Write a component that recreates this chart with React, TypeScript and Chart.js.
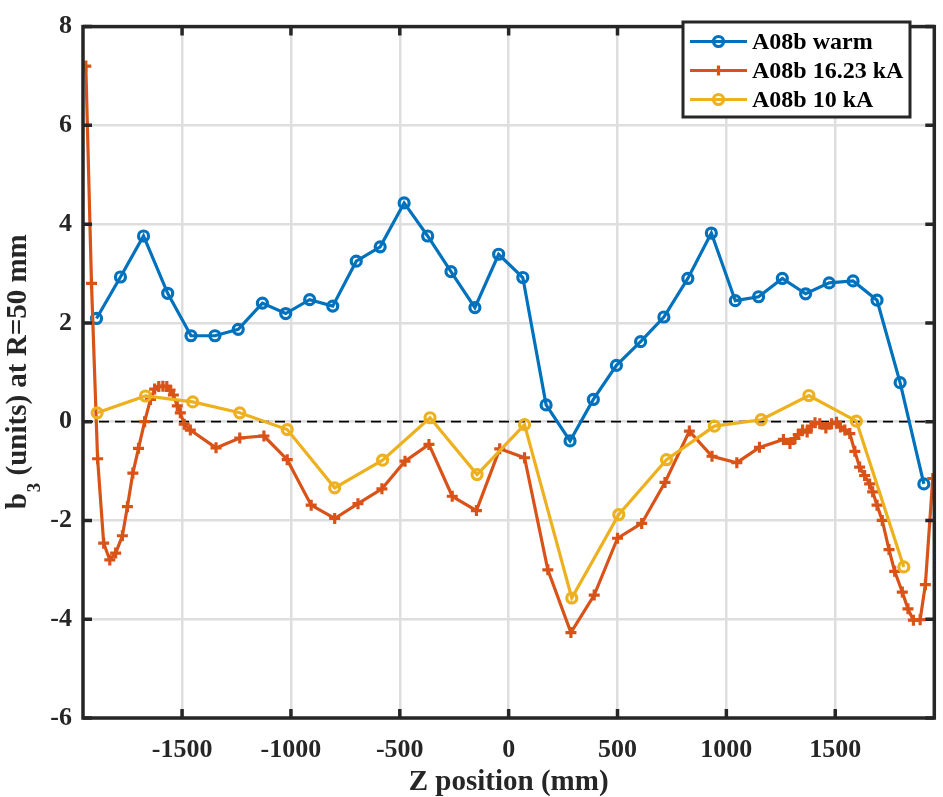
import React, { useEffect, useRef } from "react";
import { Chart, registerables } from "chart.js";

Chart.register(...registerables);

// ---- data ----
const xWarm = [-1893, -1783, -1677, -1566, -1459, -1349, -1242, -1131, -1024, -914, -808, -700, -590, -480, -372, -265, -155, -46, 65, 172, 282, 389, 495, 606, 713, 823, 931, 1041, 1148, 1257, 1364, 1472, 1582, 1692, 1798, 1907];
const bWarm = [2.09, 2.93, 3.76, 2.6, 1.74, 1.74, 1.87, 2.4, 2.19, 2.47, 2.34, 3.25, 3.54, 4.43, 3.76, 3.04, 2.31, 3.39, 2.92, 0.34, -0.39, 0.45, 1.14, 1.62, 2.12, 2.9, 3.82, 2.45, 2.53, 2.9, 2.59, 2.81, 2.85, 2.46, 0.79, -1.26];

const x16 = [-1942, -1916, -1888, -1860, -1832, -1805, -1774, -1751, -1726, -1700, -1672, -1645, -1626, -1607, -1588, -1570, -1555, -1540, -1522, -1508, -1490, -1462, -1344, -1235, -1124, -1017, -907, -799, -692, -582, -476, -366, -259, -148, -41, 73, 180, 286, 393, 500, 611, 718, 830, 934, 1048, 1152, 1262, 1292, 1315, 1330, 1350, 1371, 1390, 1407, 1429, 1457, 1483, 1506, 1524, 1544, 1567, 1590, 1612, 1635, 1658, 1672, 1692, 1716, 1747, 1773, 1808, 1834, 1859, 1890, 1914, 1948];
const b16 = [7.2, 2.8, -0.75, -2.46, -2.8, -2.66, -2.31, -1.72, -1.04, -0.54, 0.0, 0.45, 0.66, 0.71, 0.72, 0.71, 0.64, 0.54, 0.32, 0.18, -0.05, -0.17, -0.53, -0.33, -0.29, -0.77, -1.69, -1.96, -1.66, -1.36, -0.8, -0.46, -1.51, -1.8, -0.55, -0.73, -3.0, -4.27, -3.51, -2.36, -2.06, -1.23, -0.19, -0.7, -0.83, -0.52, -0.36, -0.44, -0.34, -0.26, -0.17, -0.21, -0.09, -0.02, -0.04, -0.13, -0.04, -0.01, -0.11, -0.17, -0.24, -0.6, -0.92, -1.09, -1.26, -1.42, -1.69, -2.0, -2.59, -3.03, -3.45, -3.79, -4.02, -4.01, -3.3, -1.15];

const x10 = [-1890, -1668, -1451, -1235, -1017, -799, -579, -361, -145, 73, 290, 506, 725, 945, 1160, 1379, 1597, 1815];
const b10 = [0.18, 0.52, 0.4, 0.18, -0.16, -1.34, -0.78, 0.08, -1.07, -0.06, -3.57, -1.88, -0.77, -0.09, 0.04, 0.53, 0.01, -2.94];

const seriesLabels = ["A08b warm", "A08b 16.23 kA", "A08b 10 kA"];
const xTickValues = [-1500, -1000, -500, 0, 500, 1000, 1500];
const yTickValues = [-6, -4, -2, 0, 2, 4, 6, 8];
const X_MIN = -1955;
const X_MAX = 1955;
const Y_MIN = -6;
const Y_MAX = 8;
const xTitle = "Z position (mm)";
const yTitleMain = "b";
const yTitleSub = "3";
const yTitleRest = " (units) at R=50 mm";

// ---- styles ----
const W = 943;
const H = 797;
const BLUE = "#0072BD";
const RED = "#D95319";
const YELLOW = "#EDB120";
const AX = "#262626";
const GRID = "#dedede";
const FAMILY = "'Liberation Serif', 'Times New Roman', serif";
const LW = 3.2;
const seriesColors = [BLUE, RED, YELLOW];
const seriesMarkers = ["circle", "cross", "circle"];

function drawMarker(ctx: CanvasRenderingContext2D, kind: string, x: number, y: number, r: number, color: string) {
  ctx.save();
  ctx.strokeStyle = color;
  ctx.lineWidth = LW;
  ctx.setLineDash([]);
  ctx.beginPath();
  if (kind === "circle") {
    ctx.arc(x, y, r, 0, Math.PI * 2);
  } else {
    ctx.moveTo(x - r, y);
    ctx.lineTo(x + r, y);
    ctx.moveTo(x, y - r);
    ctx.lineTo(x, y + r);
  }
  ctx.stroke();
  ctx.restore();
}

const decorPlugin = {
  id: "decor",
  beforeDatasetsDraw(chart: any) {
    const { ctx, chartArea: a, scales } = chart;
    const y0 = scales.y.getPixelForValue(0);
    ctx.save();
    ctx.strokeStyle = "#000";
    ctx.lineWidth = 1.7;
    ctx.setLineDash([10, 6]);
    ctx.beginPath();
    ctx.moveTo(a.left, y0);
    ctx.lineTo(a.right, y0);
    ctx.stroke();
    ctx.restore();
  },
  afterDraw(chart: any) {
    const { ctx, chartArea: a, scales } = chart;
    ctx.save();
    // frame
    ctx.strokeStyle = AX;
    ctx.lineWidth = 3.5;
    ctx.setLineDash([]);
    ctx.strokeRect(a.left, a.top, a.right - a.left, a.bottom - a.top);
    // inward ticks
    const tl = 9;
    ctx.beginPath();
    xTickValues.forEach((v) => {
      const px = scales.x.getPixelForValue(v);
      ctx.moveTo(px, a.bottom);
      ctx.lineTo(px, a.bottom - tl);
      ctx.moveTo(px, a.top);
      ctx.lineTo(px, a.top + tl);
    });
    yTickValues.forEach((v) => {
      const py = scales.y.getPixelForValue(v);
      ctx.moveTo(a.left, py);
      ctx.lineTo(a.left + tl, py);
      ctx.moveTo(a.right, py);
      ctx.lineTo(a.right - tl, py);
    });
    ctx.stroke();

    // x title
    ctx.fillStyle = AX;
    ctx.font = `bold 29px ${FAMILY}`;
    ctx.textAlign = "center";
    ctx.textBaseline = "alphabetic";
    ctx.fillText(xTitle, (a.left + a.right) / 2, 790);

    // y title with subscript
    const mainFont = `bold 29px ${FAMILY}`;
    const subFont = `bold 19px ${FAMILY}`;
    ctx.font = mainFont;
    const w1 = ctx.measureText(yTitleMain).width;
    const w3 = ctx.measureText(yTitleRest).width;
    ctx.font = subFont;
    const w2 = ctx.measureText(yTitleSub).width;
    const total = w1 + w2 + w3;
    ctx.save();
    ctx.translate(26, (a.top + a.bottom) / 2);
    ctx.rotate(-Math.PI / 2);
    ctx.textAlign = "left";
    let sx = -total / 2;
    ctx.font = mainFont;
    ctx.fillText(yTitleMain, sx, 0);
    sx += w1 + 1;
    ctx.font = subFont;
    ctx.fillText(yTitleSub, sx, 14);
    sx += w2;
    ctx.font = mainFont;
    ctx.fillText(yTitleRest, sx, 0);
    ctx.restore();

    // legend
    const lx = 683, ly = 22, lw = 227, lh = 95;
    ctx.fillStyle = "#fff";
    ctx.fillRect(lx, ly, lw, lh);
    ctx.strokeStyle = AX;
    ctx.lineWidth = 3;
    ctx.strokeRect(lx, ly, lw, lh);
    seriesLabels.forEach((label, i) => {
      const ry = ly + 19.5 + i * 29;
      ctx.strokeStyle = seriesColors[i];
      ctx.lineWidth = LW;
      ctx.beginPath();
      ctx.moveTo(690, ry);
      ctx.lineTo(747, ry);
      ctx.stroke();
      drawMarker(ctx, seriesMarkers[i], 718.5, ry, 5, seriesColors[i]);
      ctx.fillStyle = "#000";
      ctx.font = `bold 24px ${FAMILY}`;
      ctx.textAlign = "left";
      ctx.textBaseline = "middle";
      ctx.fillText(label, 752, ry + 1);
    });
    ctx.restore();
  },
};

function makeSeries(xs: number[], ys: number[]) {
  return xs.map((x, i) => ({ x, y: ys[i] }));
}

export default function App() {
  const canvasRef = useRef<HTMLCanvasElement | null>(null);

  useEffect(() => {
    const canvas = canvasRef.current;
    if (!canvas) return;
    const tickFont = { family: FAMILY, size: 26, weight: "bold" as const };
    const chart = new Chart(canvas, {
      type: "line",
      data: {
        datasets: [
          {
            label: seriesLabels[0],
            data: makeSeries(xWarm, bWarm),
            borderColor: BLUE,
            backgroundColor: BLUE,
            borderWidth: LW,
            pointStyle: "circle",
            pointRadius: 5,
            pointBorderWidth: LW,
            pointBorderColor: BLUE,
            pointBackgroundColor: "rgba(0,0,0,0)",
            tension: 0,
            order: 2,
          },
          {
            label: seriesLabels[1],
            data: makeSeries(x16, b16),
            borderColor: RED,
            backgroundColor: RED,
            borderWidth: LW,
            pointStyle: "cross",
            pointRadius: 5.5,
            pointBorderWidth: LW,
            pointBorderColor: RED,
            pointBackgroundColor: RED,
            tension: 0,
            order: 1,
          },
          {
            label: seriesLabels[2],
            data: makeSeries(x10, b10),
            borderColor: YELLOW,
            backgroundColor: YELLOW,
            borderWidth: LW,
            pointStyle: "circle",
            pointRadius: 5,
            pointBorderWidth: LW,
            pointBorderColor: YELLOW,
            pointBackgroundColor: "rgba(0,0,0,0)",
            tension: 0,
            order: 0,
          },
        ],
      },
      options: {
        animation: false,
        responsive: false,
        devicePixelRatio: 1,
        layout: { padding: { left: 0, top: 12, right: 5, bottom: 0 } },
        plugins: {
          legend: { display: false },
          tooltip: { enabled: false },
          title: { display: false },
        },
        scales: {
          x: {
            type: "linear",
            min: X_MIN,
            max: X_MAX,
            afterBuildTicks: (s: any) => {
              s.ticks = xTickValues.map((v) => ({ value: v }));
            },
            afterFit: (s: any) => {
              s.height = 79;
            },
            grid: { color: GRID, lineWidth: 2.5, drawTicks: false },
            border: { display: false },
            ticks: {
              padding: 17,
              color: AX,
              font: tickFont,
              maxRotation: 0,
              autoSkip: false,
              callback: (v: any) => String(v),
            },
          },
          y: {
            type: "linear",
            min: Y_MIN,
            max: Y_MAX,
            afterBuildTicks: (s: any) => {
              s.ticks = yTickValues.map((v) => ({ value: v }));
            },
            afterFit: (s: any) => {
              s.width = 83;
            },
            grid: { color: GRID, lineWidth: 2.5, drawTicks: false },
            border: { display: false },
            ticks: {
              padding: 11,
              color: AX,
              font: tickFont,
              autoSkip: false,
              callback: (v: any) => String(v),
            },
          },
        },
      },
      plugins: [decorPlugin],
    } as any);
    return () => chart.destroy();
  }, []);

  return (
    <div style={{ position: "absolute", left: 0, top: 0, width: W, height: H, background: "#fff" }}>
      <canvas ref={canvasRef} width={W} height={H} style={{ display: "block", width: W, height: H }} />
    </div>
  );
}
